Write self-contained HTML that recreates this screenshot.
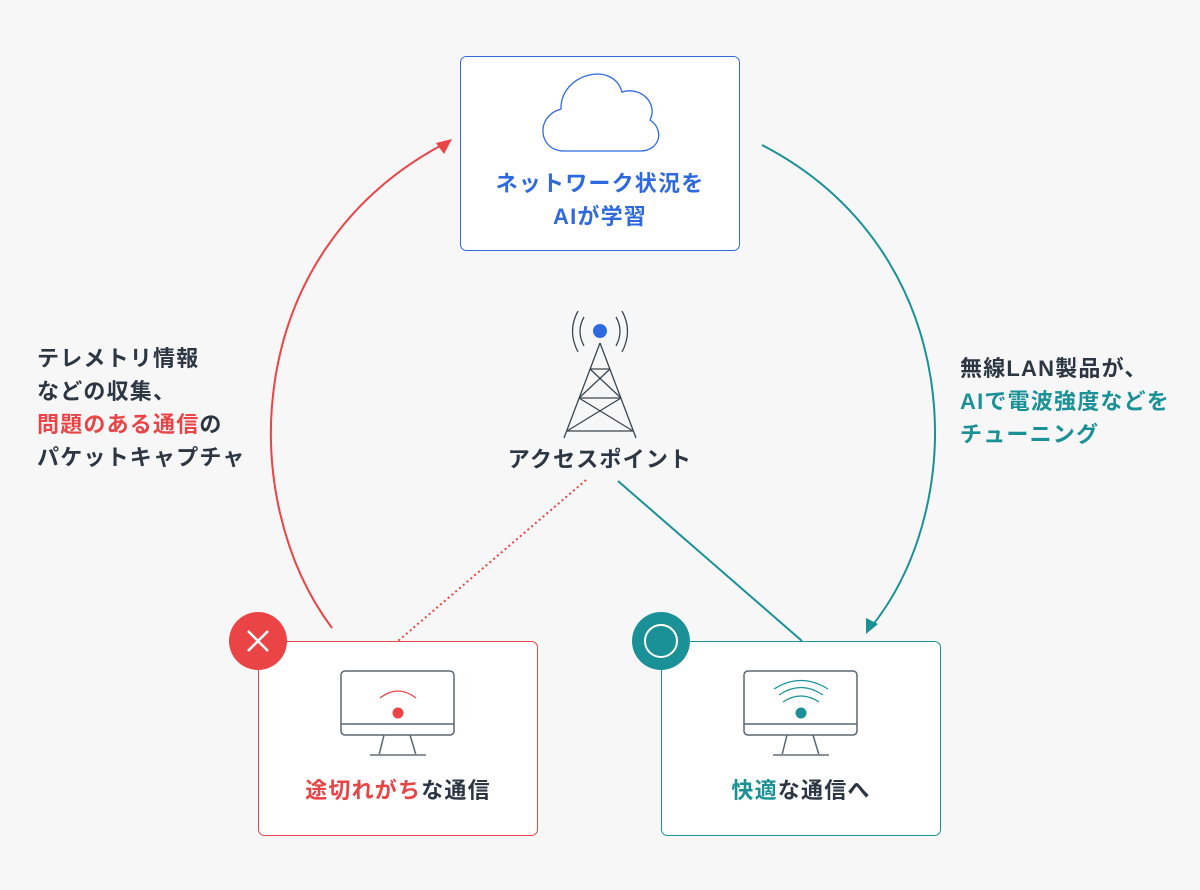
<!DOCTYPE html>
<html><head><meta charset="utf-8"><style>
body{margin:0;background:#f7f7f7;}
#c{position:relative;width:1200px;height:890px;background:#f7f7f7;overflow:hidden;font-family:"Liberation Sans","Noto Sans CJK JP",sans-serif;font-weight:bold;color:#2d3743;}
.t{position:absolute;font-size:22px;line-height:33px;letter-spacing:1.2px;white-space:nowrap;}
.r{color:#ea4446}.g{color:#1a9196}.b{color:#2f69e0}
</style></head><body><div id="c">
<svg width="1200" height="890" style="position:absolute;left:0;top:0">
<path d="M332,628 C236,500 240,255 440,146" fill="none" stroke="#ea4446" stroke-width="2"/>
<polygon points="452,139 436,143 444,154" fill="#ea4446"/>
<path d="M762,145 C965,250 972,500 872,626" fill="none" stroke="#1a9196" stroke-width="2"/>
<polygon points="866,634 866,618 878,624" fill="#1a9196"/>
<line x1="586" y1="480" x2="398" y2="641" stroke="#ea4446" stroke-width="2" stroke-dasharray="2,3"/>
<line x1="618" y1="481" x2="802" y2="641" stroke="#1a9196" stroke-width="2"/>
<rect x="460.5" y="56.5" width="279" height="194" rx="6" fill="#fff" stroke="#2f69e0"/>
<path d="M564,151 C538,151 535,116 561,109 C560,74 613,60 622,92 C642,86 658,104 650,120 C665,130 660,151 640,151 Z" fill="none" stroke="#2f69e0" stroke-width="1.3"/>
<rect x="258.5" y="641.5" width="279" height="194" rx="6" fill="#fff" stroke="#ea4446"/>
<rect x="661.5" y="641.5" width="279" height="194" rx="6" fill="#fff" stroke="#1a9196"/>
<circle cx="258" cy="641" r="29" fill="#ea4446"/>
<path d="M248,631 L268,651 M268,631 L248,651" stroke="#fff" stroke-width="2.5"/>
<circle cx="661" cy="641" r="29" fill="#1a9196"/>
<circle cx="661" cy="641" r="16" fill="none" stroke="#fff" stroke-width="2"/>
<g fill="none" stroke="#5c6670" stroke-width="1.5">
<rect x="341" y="671" width="113" height="64" rx="4"/><line x1="341" y1="724" x2="454" y2="724"/>
<path d="M384,735 L379,755 M410,735 L416,755"/><line x1="370" y1="755" x2="426" y2="755" stroke="#8a939b" stroke-width="2"/>
<rect x="744" y="671" width="113" height="64" rx="4"/><line x1="744" y1="724" x2="857" y2="724"/>
<path d="M787,735 L782,755 M813,735 L819,755"/><line x1="773" y1="755" x2="829" y2="755" stroke="#8a939b" stroke-width="2"/>
</g>
<circle cx="398" cy="713" r="5.5" fill="#ea4446"/>
<path d="M380,698 Q398,684 416,698" fill="none" stroke="#ea4446" stroke-width="1.2"/>
<circle cx="801" cy="713" r="5.5" fill="#1a9196"/>
<g fill="none" stroke="#1a9196" stroke-width="1.2">
<path d="M783,702 Q801,690 819,702"/><path d="M779,695 Q801,680 823,695"/><path d="M774,689 Q801,672 828,689"/></g>
<circle cx="600" cy="331" r="7" fill="#2f69e0"/>
<g fill="none" stroke="#3a4550" stroke-width="1.3">
<path d="M584,317 Q576,331 584,346 M578,311 Q567,331 578,352 M616,317 Q624,331 616,346 M622,311 Q633,331 622,352"/>
<path d="M600,343 L564,438 M600,343 L636,438"/>
<path d="M590,369 L610,369 M579,398 L621,398 M567,431 L633,431"/>
<path d="M590,369 L621,398 M610,369 L579,398 M579,398 L633,431 M621,398 L567,431"/>
</g>
</svg>
<div class="t b" style="left:460px;width:280px;top:167px;text-align:center;">ネットワーク状況を<br>AIが学習</div>
<div class="t" style="left:500px;width:200px;top:443px;text-align:center;">アクセスポイント</div>
<div class="t" style="left:37px;top:342px;">テレメトリ情報<br>などの収集、<br><span class="r">問題のある通信</span>の<br>パケットキャプチャ</div>
<div class="t" style="left:960px;top:352px;">無線LAN製品が、<br><span class="g">AIで電波強度などを<br>チューニング</span></div>
<div class="t" style="left:258px;width:280px;top:774px;text-align:center;"><span class="r">途切れがち</span>な通信</div>
<div class="t" style="left:661px;width:280px;top:774px;text-align:center;"><span class="g">快適</span>な通信へ</div>
</div></body></html>
